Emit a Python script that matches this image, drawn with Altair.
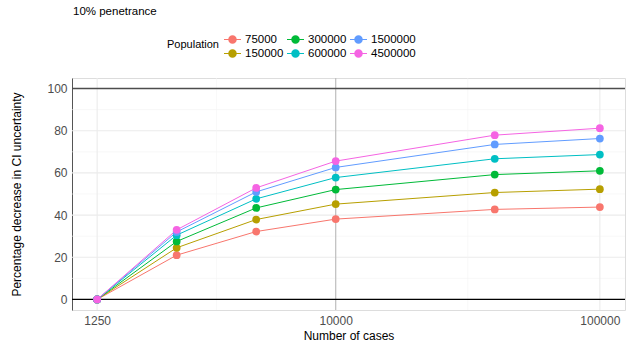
import altair as alt
import pandas as pd

cases = [1250, 2500, 5000, 10000, 40000, 100000]
pops = ["75000", "150000", "300000", "600000", "1500000", "4500000"]
vals = {
    "75000":   [0, 21.0, 32.2, 38.1, 42.7, 43.8],
    "150000":  [0, 24.5, 37.9, 45.2, 50.7, 52.3],
    "300000":  [0, 27.5, 43.4, 52.1, 59.2, 61.0],
    "600000":  [0, 30.5, 47.7, 57.8, 66.7, 68.7],
    "1500000": [0, 32.0, 51.0, 62.6, 73.5, 76.3],
    "4500000": [0, 33.0, 52.9, 65.6, 77.9, 81.2],
}
colors = ["#F8766D", "#B79F00", "#00BA38", "#00BFC4", "#619CFF", "#F564E3"]
title_text = ["10% penetrance"]

x_ticks = [1250, 10000, 100000]
x_minor = [3536, 31623]
y_major = [20, 40, 60, 80]
y_minor = [10, 30, 50, 70, 90]
y_ticks = [0, 20, 40, 60, 80, 100]

rows = []
for i, p in enumerate(pops):
    for c, v in zip(cases, vals[p]):
        rows.append({"x": c, "y": v, "pop": p, "ord": i})
df = pd.DataFrame(rows)

# legend laid out column-major like ggplot (2 rows x 3 cols)
leg_order = [0, 2, 4, 1, 3, 5]
dom = [pops[i] for i in leg_order]
rng = [colors[i] for i in leg_order]

FONT = "Liberation Sans"
xscale = alt.Scale(type="log", domain=[1004, 124500], nice=False)
yscale = alt.Scale(domain=[-5, 105], nice=False, zero=False)

xenc = alt.X("x:Q", scale=xscale,
             axis=alt.Axis(values=x_ticks, title="Number of cases", grid=False,
                           domain=False, ticks=False, labelFlush=False,
                           labelColor="#4D4D4D", labelFontSize=12, labelPadding=5,
                           titleFontSize=12, titleFontWeight="normal", titleColor="black",
                           titlePadding=4, format="d", labelFont=FONT, titleFont=FONT))
yenc = alt.Y("y:Q", scale=yscale,
             axis=alt.Axis(values=y_ticks, title="Percentage decrease in CI uncertainty",
                           grid=False, domain=True, domainColor="#555555", domainWidth=1,
                           ticks=False, labelColor="#4D4D4D", labelFontSize=12,
                           labelPadding=5, titleFontSize=12, titleFontWeight="normal",
                           titleColor="black", titlePadding=23, labelFont=FONT, titleFont=FONT))

def xrule(values, color, width):
    d = pd.DataFrame({"x": values})
    return alt.Chart(d).mark_rule(color=color, strokeWidth=width).encode(
        x=alt.X("x:Q", scale=xscale))

def yrule(values, color, width):
    d = pd.DataFrame({"y": values})
    return alt.Chart(d).mark_rule(color=color, strokeWidth=width).encode(
        y=alt.Y("y:Q", scale=yscale))

base = alt.Chart(df)
lines = base.mark_line(strokeWidth=1).encode(
    x=xenc, y=yenc,
    stroke=alt.Stroke("pop:N", scale=alt.Scale(domain=pops, range=colors), legend=None),
    detail="pop:N", order="x:Q")

sym = "M-1,-0.06H1V0.06H-1Z M0.5,0A0.5,0.5,0,1,1,-0.5,0A0.5,0.5,0,1,1,0.5,0Z"
points = base.mark_circle(size=60, opacity=1).encode(
    x=alt.X("x:Q", scale=xscale), y=alt.Y("y:Q", scale=yscale),
    color=alt.Color("pop:N", scale=alt.Scale(domain=dom, range=rng),
                    legend=alt.Legend(title="Population", orient="none", legendX=95, legendY=-47,
                                      columns=3, direction="horizontal", titleOrient="left",
                                      titleFontSize=11, titleFontWeight="normal", titleColor="black",
                                      titleFont=FONT, labelFont=FONT, labelFontSize=11.5,
                                      labelColor="black", symbolType=sym, symbolSize=289,
                                      symbolStrokeWidth=0, columnPadding=3, rowPadding=0,
                                      labelOffset=4, titlePadding=5, titleBaseline="middle",
                                      titleAnchor="middle")),
    order="ord:Q")

title = alt.Chart(pd.DataFrame({"t": title_text})).mark_text(
    align="left", baseline="middle", font=FONT, fontSize=11.5, color="black"
).encode(text="t:N", x=alt.value(1), y=alt.value(-66))

chart = alt.layer(
    yrule(y_minor, "#F3F3F3", 0.6),
    yrule(y_major, "#EBEBEB", 1.1),
    xrule(x_minor, "#F3F3F3", 0.6),
    xrule([1250, 100000], "#EBEBEB", 1.1),
    xrule([10000], "#BEBEBE", 1.2),
    yrule([0], "black", 1.2),
    yrule([100], "#4D4D4D", 1.4),
    lines, points, title,
).properties(
    width=553, height=232,
    autosize=alt.AutoSizeParams(type="none"),
    padding={"left": 72, "top": 78, "right": 6, "bottom": 39},
).configure_view(stroke=None).configure(background="white")

chart.save("out.html", embed_options={"renderer": "svg", "actions": False})
